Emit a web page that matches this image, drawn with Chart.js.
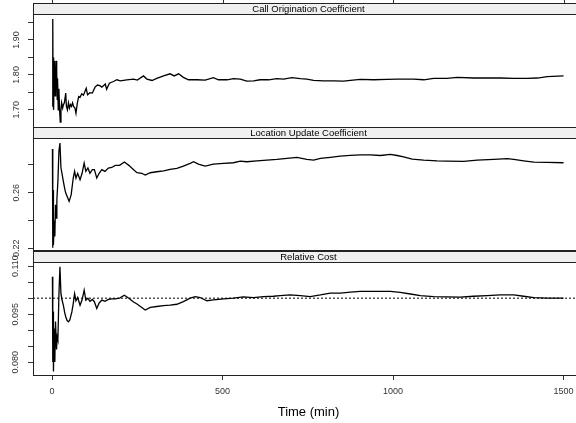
<!DOCTYPE html>
<html><head><meta charset="utf-8">
<script src="https://cdn.jsdelivr.net/npm/chart.js@4"></script>
<style>
html,body{margin:0;padding:0;background:#fff;overflow:hidden;width:576px;height:423px;}
canvas{position:absolute;left:0;top:0;}
</style></head><body>
<canvas id="c1" width="600" height="423"></canvas>
<canvas id="c2" width="600" height="423"></canvas>
<canvas id="c3" width="600" height="423"></canvas>
<script>
// ---------- data ----------
const panelTitles = ['Call Origination Coefficient', 'Location Update Coefficient', 'Relative Cost'];
const xAxisTitle = 'Time (min)';
const xTickValues = [0, 500, 1000, 1500];
const xTickLabels = ['0', '500', '1000', '1500'];

const callTickValues = [1.70, 1.75, 1.80, 1.85, 1.90, 1.95];
const callTickLabels = ['1.70', '', '1.80', '', '1.90', ''];
const locTickValues = [0.22, 0.24, 0.26, 0.28];
const locTickLabels = ['0.22', '', '0.26', ''];
const costTickValues = [0.080, 0.085, 0.090, 0.095, 0.100, 0.105, 0.110];
const costTickLabels = ['0.080', '', '', '0.095', '', '', '0.110'];
const costReference = [0.100];

const callTime = [1,2,3,4,5,6,7,8,9,10,11,12,13,14,15,16,18,20,22,24,26,28,31,33,36,40,42,45,48,51,54,57,60,63,67,70,74,78,82,87,92,100,104,111,118,126,133,140,146,156,160,168,180,190,200,219,239,250,268,278,293,307,327,346,358,371,385,400,425,449,473,488,513,532,552,571,591,610,635,659,679,703,728,747,767,796,826,855,875,904,943,982,1012,1060,1090,1119,1158,1188,1236,1276,1315,1354,1393,1423,1452,1500];
const callValues = [1.71,1.96,1.72,1.85,1.70,1.84,1.78,1.83,1.74,1.82,1.79,1.84,1.76,1.81,1.73,1.79,1.70,1.76,1.70,1.665,1.70,1.72,1.705,1.714,1.72,1.748,1.71,1.70,1.72,1.705,1.715,1.71,1.72,1.71,1.705,1.69,1.719,1.738,1.736,1.746,1.742,1.762,1.743,1.749,1.748,1.765,1.771,1.769,1.765,1.774,1.759,1.776,1.781,1.786,1.783,1.786,1.788,1.785,1.797,1.788,1.784,1.790,1.797,1.803,1.797,1.803,1.793,1.786,1.786,1.785,1.792,1.786,1.786,1.789,1.788,1.782,1.783,1.786,1.786,1.789,1.788,1.792,1.789,1.788,1.784,1.783,1.783,1.782,1.784,1.787,1.786,1.787,1.788,1.788,1.786,1.790,1.790,1.793,1.791,1.791,1.791,1.790,1.790,1.791,1.795,1.797];

const locTime = [1,2,3,4,6,8,10,12,14,17,20,23,26,29,33,37,40,46,50,56,62,66,70,75,82,88,94,99,105,111,118,124,131,138,146,155,165,175,185,198,212,225,239,249,263,273,288,307,327,346,366,385,405,415,429,449,473,503,532,552,571,601,630,659,689,718,747,767,787,816,845,875,904,933,963,992,1012,1031,1056,1090,1129,1158,1207,1247,1295,1335,1354,1383,1413,1452,1500];
const locValues = [0.2915,0.2205,0.262,0.2225,0.240,0.2286,0.2514,0.2418,0.2550,0.2682,0.2898,0.2958,0.2778,0.2740,0.2682,0.2630,0.2598,0.2562,0.2538,0.2586,0.2706,0.2754,0.2706,0.2740,0.2694,0.2740,0.2814,0.2754,0.2778,0.2740,0.2766,0.2766,0.2706,0.2740,0.2766,0.2754,0.2778,0.2782,0.2797,0.2797,0.2821,0.2797,0.2766,0.2744,0.2740,0.2727,0.2744,0.2751,0.2758,0.2768,0.2775,0.2792,0.2811,0.2823,0.2806,0.2792,0.2806,0.2811,0.2816,0.2828,0.2823,0.2830,0.2835,0.2840,0.2847,0.2855,0.2840,0.2835,0.2847,0.2855,0.2864,0.2869,0.2873,0.2873,0.2868,0.2876,0.2868,0.2859,0.2842,0.2835,0.2830,0.2828,0.2826,0.2835,0.2840,0.2845,0.2840,0.2830,0.2821,0.2818,0.2816];

const costTime = [1,2,3,4,6,8,10,13,15,17,20,23,26,29,33,37,40,44,48,52,58,62,66,70,75,82,88,94,99,105,111,118,124,131,138,146,155,165,175,185,198,212,225,239,249,263,273,288,307,327,346,366,385,405,420,434,454,473,503,532,561,591,620,649,669,698,728,757,787,816,845,875,904,933,963,992,1021,1051,1080,1119,1158,1197,1236,1276,1315,1354,1383,1413,1452,1500];
const costValues = [0.1067,0.0801,0.0958,0.0771,0.0905,0.0801,0.0927,0.0840,0.0879,0.0870,0.1009,0.1098,0.1014,0.0995,0.0978,0.0955,0.0942,0.0930,0.0926,0.0932,0.0957,0.0983,0.1014,0.0992,0.1002,0.0978,0.0995,0.1025,0.0994,0.1000,0.0990,0.0996,0.0989,0.0968,0.0985,0.0994,0.0990,0.0996,0.0998,0.0998,0.1000,0.1009,0.1000,0.0988,0.0982,0.0971,0.0963,0.0971,0.0974,0.0977,0.0978,0.0981,0.0989,0.1000,0.1005,0.1002,0.0992,0.0995,0.0998,0.1000,0.1004,0.1002,0.1005,0.1006,0.1008,0.1010,0.1008,0.1005,0.1010,0.1016,0.1016,0.1019,0.1021,0.1021,0.1021,0.1021,0.1018,0.1013,0.1008,0.1005,0.1004,0.1003,0.1006,0.1008,0.1010,0.1010,0.1006,0.1002,0.1000,0.1000];

// ---------- layout constants ----------
const X_MIN = -56, X_MAX = 1560;
const FONT = '"Liberation Sans", Arial, Helvetica, sans-serif';
Chart.defaults.font.family = FONT;

const panelDecor = {
  id: 'panelDecor',
  afterDraw(chart, args, opts) {
    const {ctx, chartArea: a} = chart;
    const sh = opts.stripHeight;
    ctx.save();
    ctx.fillStyle = '#f0f0f0';
    ctx.fillRect(a.left, a.top - sh, a.right - a.left, sh);
    ctx.strokeStyle = '#222';
    ctx.lineWidth = 1;
    ctx.strokeRect(Math.round(a.left) + 0.5, Math.round(a.top - sh) + 0.5, a.right - a.left, sh);
    ctx.strokeRect(Math.round(a.left) + 0.5, Math.round(a.top) + 0.5, a.right - a.left, a.bottom - a.top);
    ctx.fillStyle = '#000';
    ctx.font = '9.5px ' + FONT;
    ctx.textAlign = 'center';
    ctx.textBaseline = 'middle';
    ctx.fillText(opts.title, (a.left + a.right) / 2, a.top - sh / 2 + 0.5);
    if (opts.topTicks) {
      const xs = chart.scales.x;
      ctx.strokeStyle = '#333';
      ctx.beginPath();
      xTickValues.forEach(v => {
        const px = Math.round(xs.getPixelForValue(v)) + 0.5;
        ctx.moveTo(px, 0);
        ctx.lineTo(px, a.top - sh);
      });
      ctx.stroke();
    }
    ctx.restore();
  }
};

function makePanel(id, cfg) {
  const datasets = [{
    data: cfg.time.map((t, i) => ({x: t, y: cfg.values[i]})),
    borderColor: '#000', borderWidth: 1.3, pointRadius: 0, tension: 0, fill: false
  }];
  if (cfg.reference) {
    datasets.push({
      data: [{x: X_MIN, y: cfg.reference[0]}, {x: X_MAX, y: cfg.reference[0]}],
      borderColor: '#000', borderWidth: 1, borderDash: [2, 2], pointRadius: 0, fill: false
    });
  }
  return new Chart(document.getElementById(id), {
    type: 'line',
    data: {datasets},
    options: {
      responsive: false, animation: false, devicePixelRatio: 1,
      layout: {padding: {left: 0, right: 16, top: cfg.top, bottom: cfg.bottom}},
      plugins: {
        legend: {display: false}, tooltip: {enabled: false},
        panelDecor: {title: cfg.title, stripHeight: 11, topTicks: cfg.topTicks}
      },
      scales: {
        x: {
          type: 'linear', min: X_MIN, max: X_MAX, display: cfg.showX,
          afterBuildTicks: s => { s.ticks = xTickValues.map(v => ({value: v})); },
          afterFit: s => { if (cfg.showX) s.height = 48; else s.height = 0; },
          ticks: {callback: (v, i) => xTickLabels[i], font: {size: 9}, color: '#333', padding: 6, autoSkip: false, maxRotation: 0, minRotation: 0},
          grid: {drawOnChartArea: false, tickLength: 5, color: '#333'},
          border: {display: false},
          title: {display: true, text: xAxisTitle, font: {size: 13}, color: '#000', padding: {top: 0, bottom: 3}}
        },
        y: {
          type: 'linear', min: cfg.yMin, max: cfg.yMax,
          afterBuildTicks: s => { s.ticks = cfg.tickValues.map(v => ({value: v})); },
          afterFit: s => { s.width = 33; },
          ticks: {callback: (v, i) => cfg.tickLabels[i], font: {size: 9}, color: '#333', padding: cfg.labelPad, autoSkip: false, minRotation: 90, maxRotation: 90, crossAlign: 'center'},
          grid: {drawOnChartArea: false, tickLength: 5, color: '#333'},
          border: {display: false}
        }
      }
    },
    plugins: [panelDecor]
  });
}

makePanel('c1', {time: callTime, values: callValues, title: panelTitles[0], top: 14, bottom: 296, showX: false, topTicks: true,
  yMin: 1.651, yMax: 1.974, tickValues: callTickValues, tickLabels: callTickLabels, labelPad: 3});
makePanel('c2', {time: locTime, values: locValues, title: panelTitles[1], top: 138, bottom: 173, showX: false,
  yMin: 0.2188, yMax: 0.2994, tickValues: locTickValues, tickLabels: locTickLabels, labelPad: 3});
makePanel('c3', {time: costTime, values: costValues, title: panelTitles[2], top: 262, bottom: 0, showX: true, reference: costReference,
  yMin: 0.0760, yMax: 0.1113, tickValues: costTickValues, tickLabels: costTickLabels, labelPad: 1});
</script>
</body></html>
